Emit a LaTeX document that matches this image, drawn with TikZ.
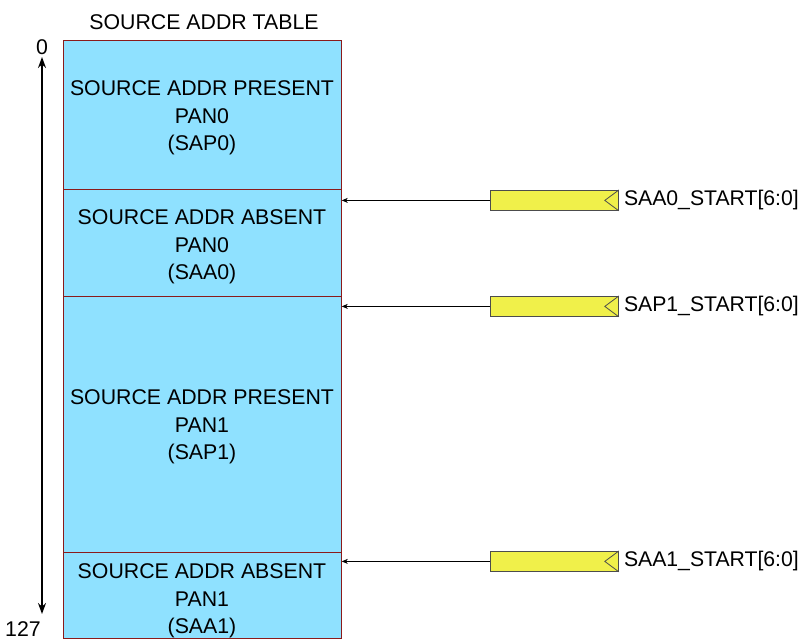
\documentclass[tikz,border=0pt]{standalone}
\usepackage{fontspec}
\setmainfont{Liberation Sans}
\usetikzlibrary{arrows.meta}
\definecolor{cellblue}{HTML}{8FE1FF}
\definecolor{cellborder}{HTML}{8B1A1A}
\definecolor{boxyellow}{HTML}{F0F04A}
\begin{document}
\begin{tikzpicture}[x=1pt,y=-1pt,
  cell/.style={draw=cellborder, fill=cellblue, line width=0.8pt, minimum width=278pt, inner sep=0pt, anchor=north west},
  lbl/.style={font=\fontsize{21.3}{27.5}\selectfont, align=center, inner sep=0pt},
  ybox/.style={draw=black!70, fill=boxyellow, line width=0.8pt, minimum width=128pt, minimum height=20pt, inner sep=0pt, anchor=north west},
  sig/.style={font=\fontsize{21.2}{24}\selectfont, anchor=west, inner sep=0pt},
  ptr/.style={-{Stealth[length=6pt,width=5pt]}, line width=0.6pt},
  axis/.style={{Stealth[length=11pt,width=8pt]}-{Stealth[length=11pt,width=8pt]}, line width=1.6pt}]
\useasboundingbox (0,0) rectangle (798,638);
% table cells
\node[cell, minimum height=149pt] (c0) at (63,40) {};
\node[cell, minimum height=107pt] (c1) at (63,189) {};
\node[cell, minimum height=256pt] (c2) at (63,296) {};
\node[cell, minimum height=86pt] (c3) at (63,552) {};
% texts
\node[lbl] (title) at (204,22) {SOURCE ADDR TABLE};
\node[lbl] (t0) at (202,118) {SOURCE ADDR PRESENT\\PAN0\\(SAP0)};
\node[lbl] (t1) at (202,247) {SOURCE ADDR ABSENT\\PAN0\\(SAA0)};
\node[lbl] (t2) at (202,427) {SOURCE ADDR PRESENT\\PAN1\\(SAP1)};
\node[lbl] (t3) at (202,601) {SOURCE ADDR ABSENT\\PAN1\\(SAA1)};
% axis
\node[lbl, anchor=base] (zero) at (42,54) {0};
\node[lbl, anchor=base] (last) at (23,636) {127};
\coordinate (atop) at (42,57);
\coordinate (abot) at (42,614);
\draw[axis] (atop) -- (abot);
% yellow boxes
\node[ybox] (b0) at (490,190) {};
\node[ybox] (b1) at (490,296) {};
\node[ybox] (b2) at (490,551) {};
\foreach \b/\t in {b0/SAA0, b1/SAP1, b2/SAA1}{
  \draw[black!70, line width=0.8pt] (\b.north east) -- ([xshift=-14pt]\b.east) -- (\b.south east);
  \node[sig] at ([xshift=5pt]\b.east) {\t\_START[6:0]};
}
\draw[ptr] (b0.west) -- (b0.west -| c1.east);
\draw[ptr] (b1.west) -- (b1.west -| c2.east);
\draw[ptr] (b2.west) -- (b2.west -| c3.east);
\end{tikzpicture}
\end{document}
